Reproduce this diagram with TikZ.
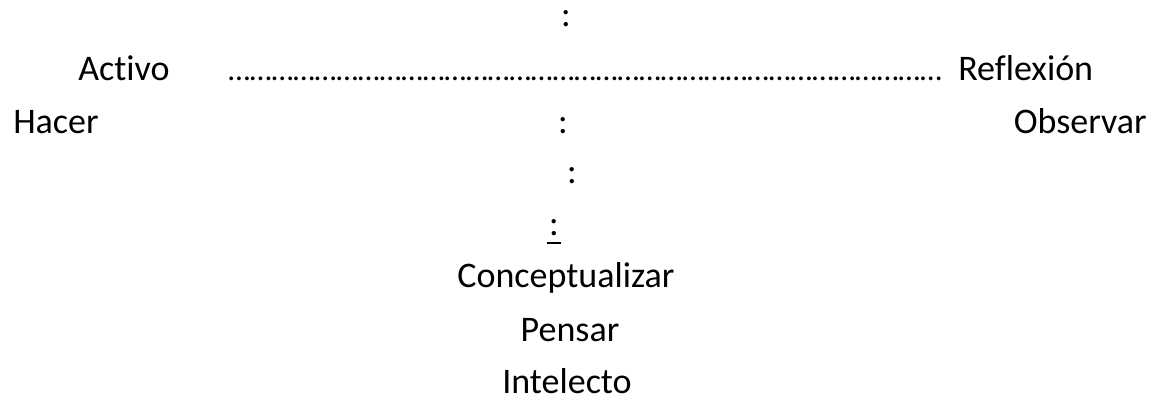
\documentclass[tikz,border=0pt]{standalone}
\usepackage{fontspec}
\setmainfont{Carlito}[Ligatures=NoCommon]

\tikzset{
  lbl/.style={font=\fontsize{27}{32}\selectfont, inner sep=0pt, anchor=base},
  puntitos/.style={lbl, font=\fontsize{23.5}{32}\selectfont, anchor=base west},
}

\begin{document}
\begin{tikzpicture}[x=0.75pt,y=0.75pt,yscale=-1,xscale=1]
\useasboundingbox (0,0) rectangle (1153,400);

% Text Node
\node[lbl] (topcolon) at (566,26) {:};
% Text Node
\node[lbl, anchor=base west] (activo) at (78,80) {Activo};
% Text Node
\node[puntitos] (puntos) at (228,80) {\foreach \i in {1,...,33}{…}};
% Text Node
\node[lbl, anchor=base west] (reflexion) at (958,80) {Reflexión};
% Text Node
\node[lbl, anchor=base west] (hacer) at (13,133) {Hacer};
% Text Node
\node[lbl] (midcolon) at (563,133) {:};
% Text Node
\node[lbl, anchor=base east] (observar) at (1147,133) {Observar};
% Text Node
\node[lbl] (lowcolon) at (572,183) {:};
% Text Node
\node[lbl] (ucolon) at (554,235) {:};
\draw[line width=0.9pt] ([xshift=-1.5pt,yshift=6pt]ucolon.base west) -- ([xshift=1.5pt,yshift=6pt]ucolon.base east);
% Text Node
\node[lbl] (concept) at (566,287) {Conceptualizar};
% Text Node
\node[lbl] (pensar) at (570,341) {Pensar};
% Text Node
\node[lbl] (intelecto) at (567,393) {Intelecto};

\end{tikzpicture}
\end{document}
